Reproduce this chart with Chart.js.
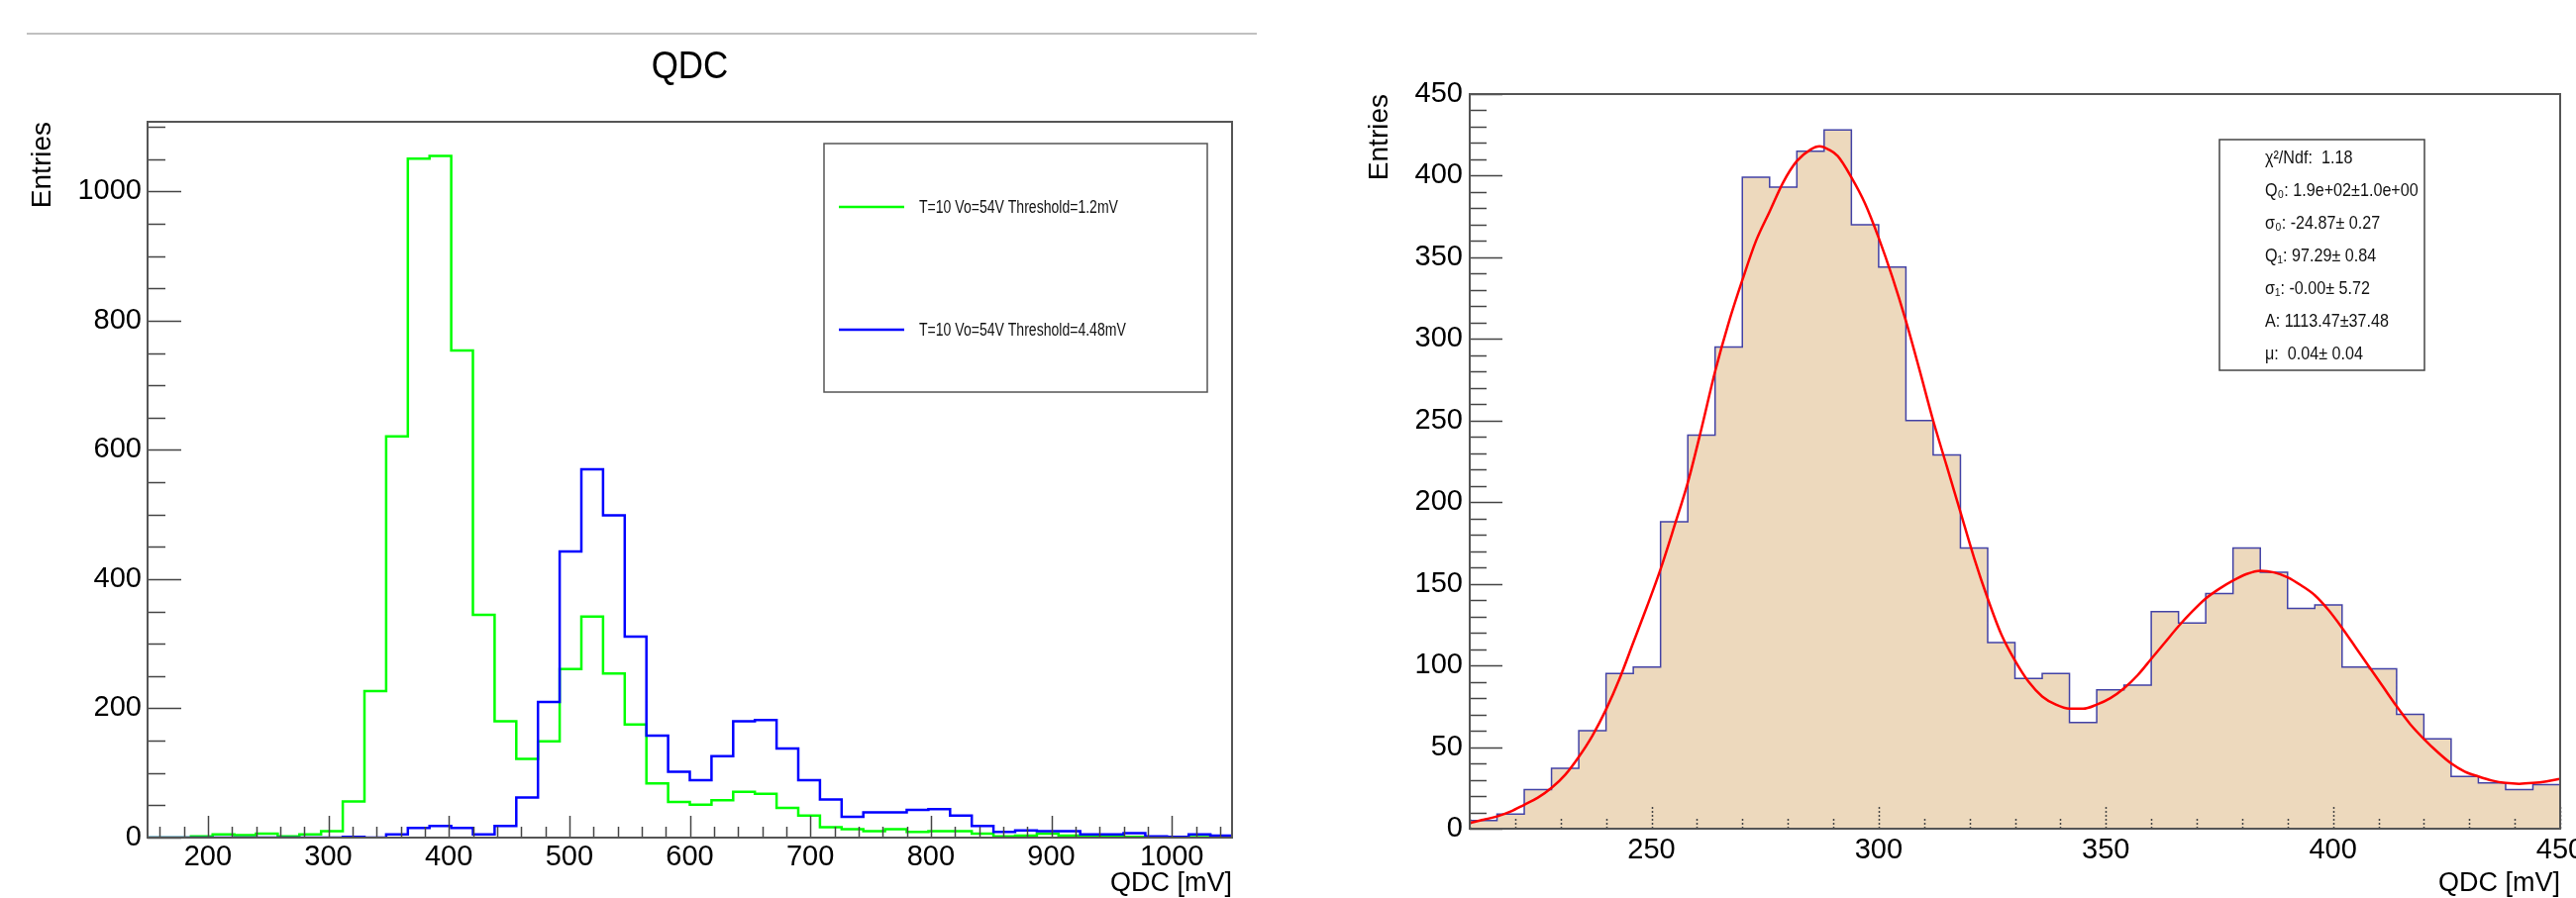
<!DOCTYPE html>
<html>
<head>
<meta charset="utf-8">
<script src="https://cdn.jsdelivr.net/npm/chart.js@4.4.1/dist/chart.umd.min.js"></script>
<style>
    body { margin: 0; background: #fff; overflow: hidden; }
    #wrap { position: relative; width: 2601px; height: 907px; }
    canvas { position: absolute; top: 0; }
    #qdc { left: 0; }
    #fit { left: 1300px; }
</style>
</head>
<body>
<div id="wrap">
    <canvas id="qdc" width="1300" height="907"></canvas>
    <canvas id="fit" width="1301" height="907"></canvas>
</div>
<script>
// left: two QDC spectra, 50 bins of 18 mV starting at 150 mV
let qdcMin = 150
let qdcBin = 18
let green = [0, 0, 2, 5, 4, 6, 2, 5, 10, 56,
    227, 621, 1051, 1055, 754, 345, 180, 122, 149, 261,
    342, 254, 175, 84, 55, 51, 58, 71, 68, 46,
    34, 16, 13, 10, 13, 9, 10, 10, 6, 2,
    3, 6, 3, 1, 1, 1, 0, 1, 4, 0]
let blue = [0, 0, 0, 0, 0, 0, 0, 0, 0, 1,
    0, 5, 15, 18, 15, 5, 18, 62, 210, 443,
    570, 499, 311, 158, 102, 89, 126, 180, 182, 138,
    89, 59, 32, 39, 39, 43, 44, 34, 18, 9,
    11, 10, 10, 5, 5, 7, 2, 1, 5, 3]
let legendLabels = ['T=10 Vo=54V Threshold=1.2mV', 'T=10 Vo=54V Threshold=4.48mV']
let qdcTicks = [200, 300, 400, 500, 600, 700, 800, 900, 1000]
let qdcEntryTicks = [0, 200, 400, 600, 800, 1000]

// right: fitted spectrum, 40 bins of 6 mV starting at 210 mV
let fitMin = 210
let fitBin = 6
let spectrum = [5, 9, 24, 37, 60, 95, 99, 188, 241, 295,
    399, 393, 415, 428, 370, 344, 250, 229, 172, 114,
    92, 95, 65, 85, 88, 133, 126, 144, 172, 157,
    135, 137, 99, 98, 70, 55, 32, 28, 24, 27]
// fit curve
let curveX = [210, 213, 216, 219, 222, 225, 228, 231, 234, 237, 240, 243, 246, 249, 252, 255, 258, 261, 264, 267,
    270, 273, 276, 279, 282, 285, 287, 289, 291, 294, 297, 300, 303, 306, 309, 312, 315, 318, 321, 324,
    327, 330, 333, 336, 339, 342, 345, 348, 351, 354, 357, 360, 363, 366, 369, 372, 375, 378, 381, 384,
    387, 390, 393, 396, 399, 402, 405, 408, 411, 414, 417, 420, 423, 426, 429, 432, 435, 438, 441, 444, 447, 450]
let curveY = [3.5, 5.5, 7.5, 10.5, 14.7, 19, 25, 33, 44, 57, 73, 92, 114, 136, 159, 185, 212, 245, 280, 310,
    336, 360, 378, 396, 409, 416, 418, 416, 412, 399, 383, 362, 338, 311, 281, 250, 222, 194, 166, 141,
    119, 103, 90, 81, 76, 73.5, 73.5, 76, 80, 86, 94, 104, 114, 124, 133, 141, 147, 152, 156, 158,
    157, 154, 149, 143, 134, 123, 111, 99, 87, 75, 64, 55, 47, 40, 35, 32, 29.5, 28, 27.5, 28, 29, 30.5]
let fitTicks = [250, 300, 350, 400, 450]
let fitEntryTicks = [0, 50, 100, 150, 200, 250, 300, 350, 400, 450]
let statLines = ['\u03c7\u00b2/Ndf:  1.18', 'Q\u2080: 1.9e+02\u00b11.0e+00', '\u03c3\u2080: -24.87\u00b1 0.27',
    'Q\u2081: 97.29\u00b1 0.84', '\u03c3\u2081: -0.00\u00b1 5.72', 'A: 1113.47\u00b137.48', '\u03bc:  0.04\u00b1 0.04']

const FONT = "'Liberation Sans', Arial, sans-serif"

// histogram outline: one point per low edge plus the last high edge
function steps(min, width, vals) {
    let pts = vals.map((v, i) => ({ x: min + i * width, y: v }))
    pts.push({ x: min + vals.length * width, y: vals[vals.length - 1] })
    return pts
}

// ROOT text is a bit condensed, squeeze it horizontally
function narrowText(ctx, txt, x, y, sx) {
    ctx.save()
    ctx.translate(x, y)
    ctx.scale(sx, 1)
    ctx.fillText(txt, 0, 0)
    ctx.restore()
}

// ROOT style: ticks pointing into the frame, then the frame itself
const inwardTicks = {
    id: 'inwardTicks',
    afterDatasetsDraw(chart, args, o) {
        let { ctx, chartArea: a } = chart
        let x = chart.scales.x
        let y = chart.scales.y
        ctx.save()
        ctx.strokeStyle = '#444'
        ctx.lineWidth = 1.5

        let xMajor = x.ticks.map(t => t.value)
        ctx.setLineDash(o.dotted ? [2, 2] : [])
        for (let v = Math.ceil(x.min / o.xStep) * o.xStep; v <= x.max; v += o.xStep) {
            let len = xMajor.includes(v) ? o.xLong : o.xShort
            let px = Math.round(x.getPixelForValue(v)) + 0.5
            ctx.beginPath()
            ctx.moveTo(px, a.bottom)
            ctx.lineTo(px, a.bottom - len)
            ctx.stroke()
        }
        ctx.setLineDash([])

        let yMajor = y.ticks.map(t => t.value)
        for (let v = Math.ceil(y.min / o.yStep) * o.yStep; v <= y.max; v += o.yStep) {
            let len = yMajor.includes(v) ? o.yLong : o.yShort
            let py = Math.round(y.getPixelForValue(v)) + 0.5
            ctx.beginPath()
            ctx.moveTo(a.left, py)
            ctx.lineTo(a.left + len, py)
            ctx.stroke()
        }

        ctx.strokeStyle = '#555'
        ctx.lineWidth = 2
        ctx.strokeRect(a.left, a.top, a.right - a.left, a.bottom - a.top)
        ctx.restore()
    }
}

function xAxis(min, max, ticks, pad, fit) {
    return {
        type: 'linear', min: min, max: max,
        afterBuildTicks: s => { s.ticks = ticks.map(v => ({ value: v })) },
        afterFit: s => { s.height = fit; s.paddingLeft = 0; s.paddingRight = 0 },
        grid: { display: false, drawTicks: false },
        border: { display: false },
        ticks: { autoSkip: false, maxRotation: 0, padding: pad, color: '#000',
            font: { family: FONT, size: 29 }, callback: v => String(v) },
        title: { display: true, text: 'QDC [mV]', align: 'end', color: '#000',
            font: { family: FONT, size: 27 }, padding: { top: 0, bottom: -2 } }
    }
}

function yAxis(max, ticks, pad, fit, titlePad) {
    return {
        type: 'linear', min: 0, max: max,
        afterBuildTicks: s => { s.ticks = ticks.map(v => ({ value: v })) },
        afterFit: s => { s.width = fit; s.paddingTop = 0; s.paddingBottom = 0 },
        grid: { display: false, drawTicks: false },
        border: { display: false },
        ticks: { autoSkip: false, padding: pad, color: '#000',
            font: { family: FONT, size: 29 }, callback: v => String(v) },
        title: { display: true, text: 'Entries', align: 'end', color: '#000',
            font: { family: FONT, size: 28 }, padding: { top: titlePad, bottom: 0 } }
    }
}

const qdcDecor = {
    id: 'qdcDecor',
    afterDraw(chart) {
        let ctx = chart.ctx
        ctx.save()
        ctx.strokeStyle = '#c0c0c0'
        ctx.lineWidth = 2
        ctx.beginPath()
        ctx.moveTo(27, 34)
        ctx.lineTo(1269, 34)
        ctx.stroke()

        ctx.fillStyle = '#000'
        ctx.font = '38px ' + FONT
        ctx.textAlign = 'center'
        ctx.textBaseline = 'alphabetic'
        narrowText(ctx, 'QDC', (chart.chartArea.left + chart.chartArea.right) / 2, 79, 0.92)

        // legend box
        ctx.fillStyle = '#fff'
        ctx.fillRect(832, 145, 387, 251)
        ctx.strokeStyle = '#555'
        ctx.lineWidth = 1.5
        ctx.strokeRect(832, 145, 387, 251)
        let rows = [209, 333]
        legendLabels.forEach((txt, i) => {
            let ds = chart.data.datasets.find(d => d.label === txt)
            ctx.strokeStyle = ds.borderColor
            ctx.lineWidth = 2.5
            ctx.beginPath()
            ctx.moveTo(847, rows[i])
            ctx.lineTo(913, rows[i])
            ctx.stroke()
            ctx.fillStyle = '#111'
            ctx.font = '18px ' + FONT
            ctx.textAlign = 'left'
            ctx.textBaseline = 'middle'
            narrowText(ctx, txt, 928, rows[i] + 1, 0.78)
        })
        ctx.restore()
    }
}

const fitDecor = {
    id: 'fitDecor',
    afterDraw(chart) {
        let ctx = chart.ctx
        ctx.save()
        ctx.fillStyle = '#fff'
        ctx.fillRect(941, 141, 207, 233)
        ctx.strokeStyle = '#444'
        ctx.lineWidth = 1.5
        ctx.strokeRect(941, 141, 207, 233)
        ctx.fillStyle = '#111'
        ctx.font = '19px ' + FONT
        ctx.textAlign = 'left'
        ctx.textBaseline = 'middle'
        statLines.forEach((s, i) => narrowText(ctx, s, 987, 160 + i * 33, 0.85))
        ctx.restore()
    }
}

new Chart(document.getElementById('qdc'), {
    type: 'line',
    data: {
        datasets: [
            { label: legendLabels[1], data: steps(qdcMin, qdcBin, blue), borderColor: '#0000ff',
                borderWidth: 2.5, stepped: true, pointRadius: 0, fill: false, order: 0 },
            { label: legendLabels[0], data: steps(qdcMin, qdcBin, green), borderColor: '#00ff00',
                borderWidth: 2.5, stepped: true, pointRadius: 0, fill: false, order: 1 }
        ]
    },
    options: {
        responsive: false,
        animation: false,
        devicePixelRatio: 1,
        layout: { padding: { left: 0, right: 56, top: 123, bottom: 0 } },
        plugins: {
            legend: { display: false },
            tooltip: { enabled: false },
            inwardTicks: { xStep: 20, xLong: 22, xShort: 11, yStep: 50, yLong: 34, yShort: 18, dotted: false }
        },
        scales: {
            x: xAxis(150, 1050, qdcTicks, 3, 61),
            y: yAxis(1108, qdcEntryTicks, 6, 149, 26)
        }
    },
    plugins: [inwardTicks, qdcDecor]
})

new Chart(document.getElementById('fit'), {
    type: 'line',
    data: {
        datasets: [
            { label: 'fit', data: curveX.map((x, i) => ({ x: x, y: curveY[i] })), borderColor: '#ff0000',
                borderWidth: 2.5, tension: 0.4, cubicInterpolationMode: 'monotone', pointRadius: 0, fill: false, order: 0 },
            { label: 'QDC', data: steps(fitMin, fitBin, spectrum), borderColor: '#4242a6', backgroundColor: '#edd9bd',
                borderWidth: 1.5, stepped: true, pointRadius: 0, fill: 'origin', order: 1 }
        ]
    },
    options: {
        responsive: false,
        animation: false,
        devicePixelRatio: 1,
        layout: { padding: { left: 0, right: 16, top: 95, bottom: 0 } },
        plugins: {
            legend: { display: false },
            tooltip: { enabled: false },
            inwardTicks: { xStep: 10, xLong: 24, xShort: 10, yStep: 10, yLong: 33, yShort: 17, dotted: true }
        },
        scales: {
            x: xAxis(210, 450, fitTicks, 5, 70),
            y: yAxis(450, fitEntryTicks, 7, 184, 76)
        }
    },
    plugins: [inwardTicks, fitDecor]
})
</script>
</body>
</html>
